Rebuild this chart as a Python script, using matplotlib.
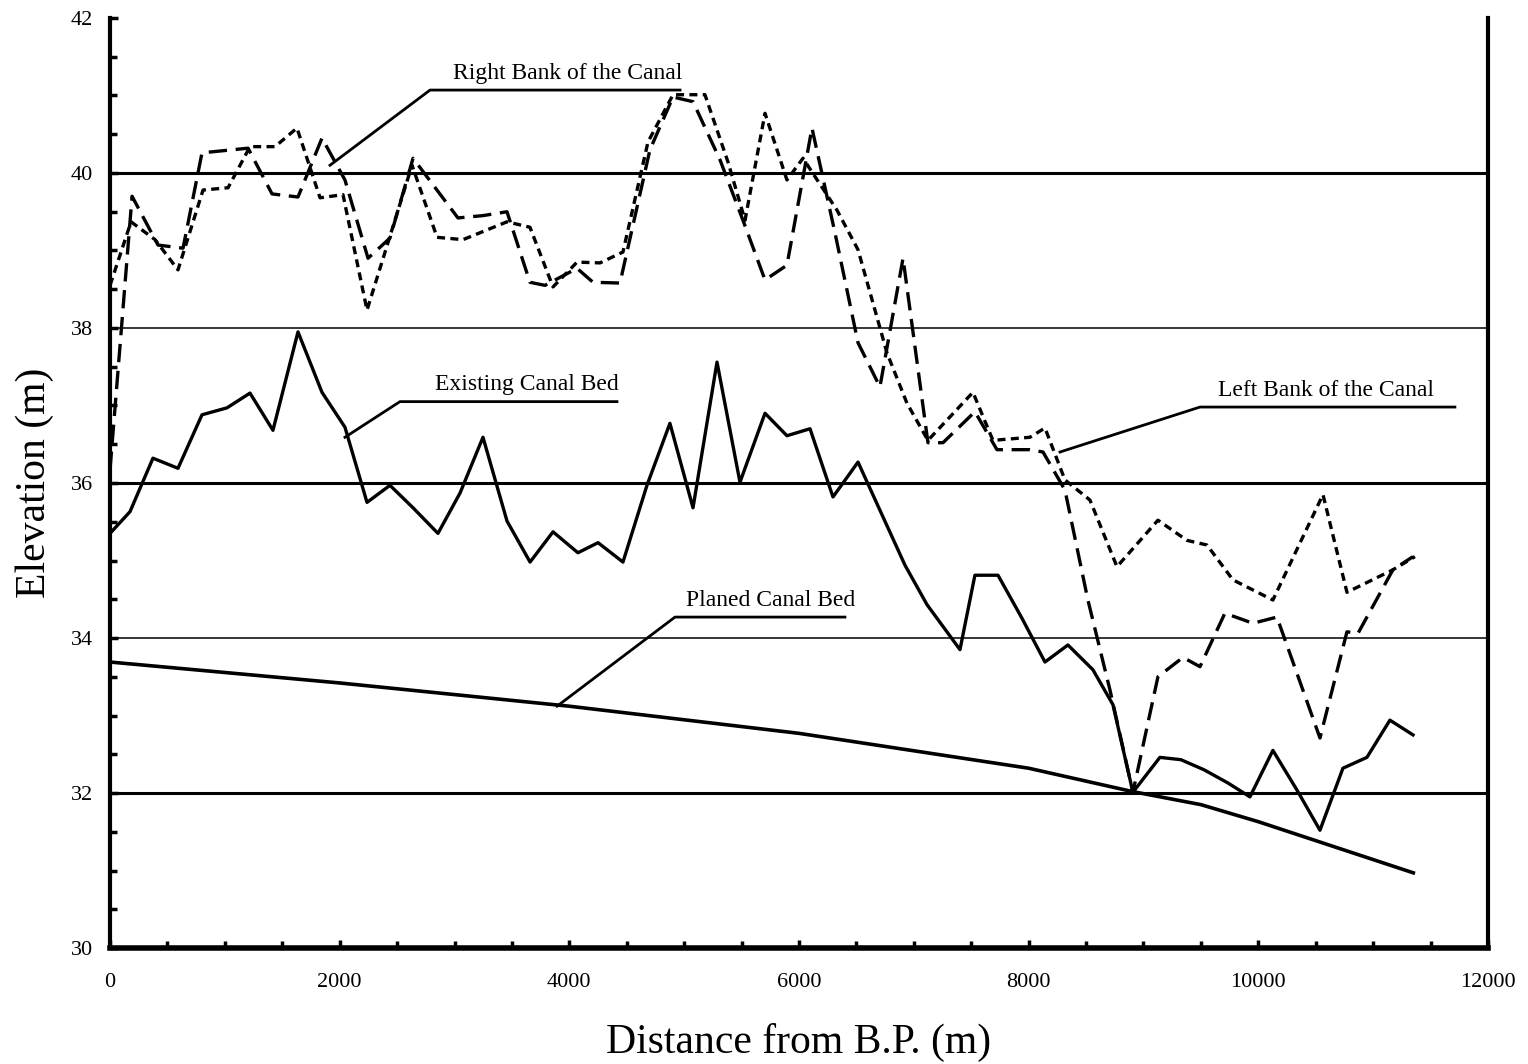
#coding:utf-8
# canal longitudinal profile: bank levels, existing bed and planned bed
import matplotlib
matplotlib.use('Agg')
import matplotlib.pyplot as plt
from matplotlib.ticker import MultipleLocator

# existing canal bed (solid)
bed_x = [0, 174, 374, 592, 801, 1019, 1219, 1419, 1637, 1846, 2046, 2238, 2438, 2639, 2856,
         3048, 3248, 3457, 3658, 3858, 4075, 4250, 4467, 4676, 4876, 5077, 5286, 5486, 5704,
         5895, 6096, 6296, 6514, 6723, 6923, 7115, 7402, 7532, 7733, 7940, 8142, 8342, 8560,
         8734, 8908, 9143, 9326, 9527, 9735, 9927, 10127, 10336, 10537, 10737, 10946, 11146, 11347]
bed_y = [35.35, 35.63, 36.32, 36.19, 36.88, 36.97, 37.16, 36.68, 37.95, 37.17, 36.72, 35.75,
         35.97, 35.68, 35.35, 35.87, 36.59, 35.51, 34.98, 35.37, 35.10, 35.23, 34.98, 35.97,
         36.77, 35.68, 37.56, 36.01, 36.90, 36.61, 36.70, 35.82, 36.27, 35.59, 34.94, 34.43,
         33.85, 34.81, 34.81, 34.26, 33.69, 33.91, 33.59, 33.14, 32.01, 32.46, 32.43, 32.30,
         32.13, 31.95, 32.55, 32.04, 31.52, 32.32, 32.46, 32.94, 32.75]

# planned canal bed
plan_x = [0, 2000, 4000, 6000, 8000, 8900, 9500, 10000, 11350]
plan_y = [33.69, 33.42, 33.12, 32.77, 32.32, 32.02, 31.85, 31.63, 30.97]

# bank line 1 (long dash)
bank1_x = [0, 192, 418, 636, 801, 1202, 1411, 1637, 1846, 2046, 2247, 2438, 2639, 3030, 3248,
           3457, 3657, 3788, 4067, 4206, 4441, 4702, 4903, 5077, 5312, 5512, 5704, 5895, 6113,
           6313, 6514, 6705, 6906, 7123, 7254, 7532, 7724, 8011, 8125, 8316, 8516, 8708, 8908,
           9126, 9344, 9492, 9709, 9953, 10162, 10537, 10772, 10868, 11172, 11347]
bank1_y = [36.17, 39.70, 39.07, 39.03, 40.26, 40.32, 39.73, 39.69, 40.45, 39.91, 38.90, 39.16,
           40.19, 39.42, 39.45, 39.50, 38.59, 38.55, 38.77, 38.59, 38.58, 40.30, 40.98, 40.92,
           40.17, 39.39, 38.62, 38.81, 40.58, 39.23, 37.81, 37.24, 38.90, 36.52, 36.52, 36.92,
           36.43, 36.43, 36.40, 35.91, 34.49, 33.33, 32.01, 33.50, 33.75, 33.63, 34.32, 34.19,
           34.27, 32.71, 34.08, 34.06, 34.88, 35.05]

# bank line 2 (short dash)
bank2_x = [0, 183, 392, 592, 810, 1028, 1219, 1437, 1628, 1829, 2029, 2238, 2630, 2848, 3074,
           3457, 3657, 3858, 4067, 4267, 4467, 4685, 4903, 5181, 5382, 5530, 5704, 5895, 6035,
           6331, 6514, 6766, 6940, 7123, 7515, 7689, 8011, 8142, 8316, 8534, 8769, 9126, 9379,
           9553, 9779, 10127, 10563, 10772, 11172, 11364]
bank2_y = [38.55, 39.37, 39.14, 38.75, 39.78, 39.81, 40.34, 40.34, 40.58, 39.68, 39.72, 38.23,
           40.10, 39.17, 39.14, 39.37, 39.30, 38.53, 38.85, 38.84, 38.98, 40.40, 41.01, 41.01,
           40.14, 39.39, 40.77, 39.91, 40.19, 39.52, 39.01, 37.68, 37.03, 36.55, 37.17, 36.55,
           36.59, 36.71, 36.04, 35.78, 34.92, 35.52, 35.26, 35.20, 34.75, 34.49, 35.85, 34.59,
           34.88, 35.05]

plt.rcParams['font.family'] = ['Liberation Serif', 'DejaVu Serif']

fig = plt.figure(figsize=(15.28, 10.64), dpi=100)
ax = fig.add_axes([0.072, 0.109, 0.9018, 0.8741])

# horizontal grid lines (32/36/40 heavier)
for lev in [32, 36, 40]:
    ax.axhline(lev, color='black', lw=2.2, zorder=1)
for lev in [34, 38]:
    ax.axhline(lev, color='black', lw=1.1, zorder=1)

ax.plot(plan_x, plan_y, color='black', lw=2.6, zorder=3)
ax.plot(bed_x, bed_y, color='black', lw=2.4, zorder=3)
ax.plot(bank1_x, bank1_y, color='black', lw=2.4, linestyle=(0, (5.5, 2.6)), zorder=3)
ax.plot(bank2_x, bank2_y, color='black', lw=2.4, linestyle=(0, (2.4, 1.6)), zorder=3)

# labels with leader lines: tip, elbow, end of underline
labels = [
    ('Right Bank of the Canal', (1916, 40.10), (2787, 41.07), 4964, 2987),
    ('Existing Canal Bed', (2046, 36.59), (2525, 37.05), 4415, 2830),
    ('Planed Canal Bed', (3893, 33.12), (4920, 34.27), 6400, 5016),
    ('Left Bank of the Canal', (8273, 36.40), (9492, 36.98), 11712, 9649),
]
for txt, tip, elbow, xend, xtxt in labels:
    ax.plot([tip[0], elbow[0], xend], [tip[1], elbow[1], elbow[1]], color='black', lw=2.0, zorder=4)
    ax.text(xtxt, elbow[1] + 0.08, txt, fontsize=17, ha='left', va='bottom', zorder=5)

ax.set_xlim(0, 12000)
ax.set_ylim(30, 42)
ax.xaxis.set_major_locator(MultipleLocator(2000))
ax.xaxis.set_minor_locator(MultipleLocator(500))
ax.yaxis.set_major_locator(MultipleLocator(2))
ax.yaxis.set_minor_locator(MultipleLocator(0.5))
ax.tick_params(axis='both', which='both', direction='in', width=2.5, labelsize=16)
ax.tick_params(axis='x', which='major', length=6, pad=18)
ax.tick_params(axis='x', which='minor', length=5)
ax.tick_params(axis='y', which='major', length=6, pad=12)
ax.tick_params(axis='y', which='minor', length=5)

ax.spines['top'].set_visible(False)
ax.spines['left'].set_linewidth(3)
ax.spines['right'].set_linewidth(3)
ax.spines['bottom'].set_linewidth(4)

ax.set_xlabel('Distance from B.P. (m)', fontsize=30, labelpad=22)
ax.set_ylabel('Elevation (m)', fontsize=30, labelpad=12)

plt.savefig('out.png', dpi=100)
